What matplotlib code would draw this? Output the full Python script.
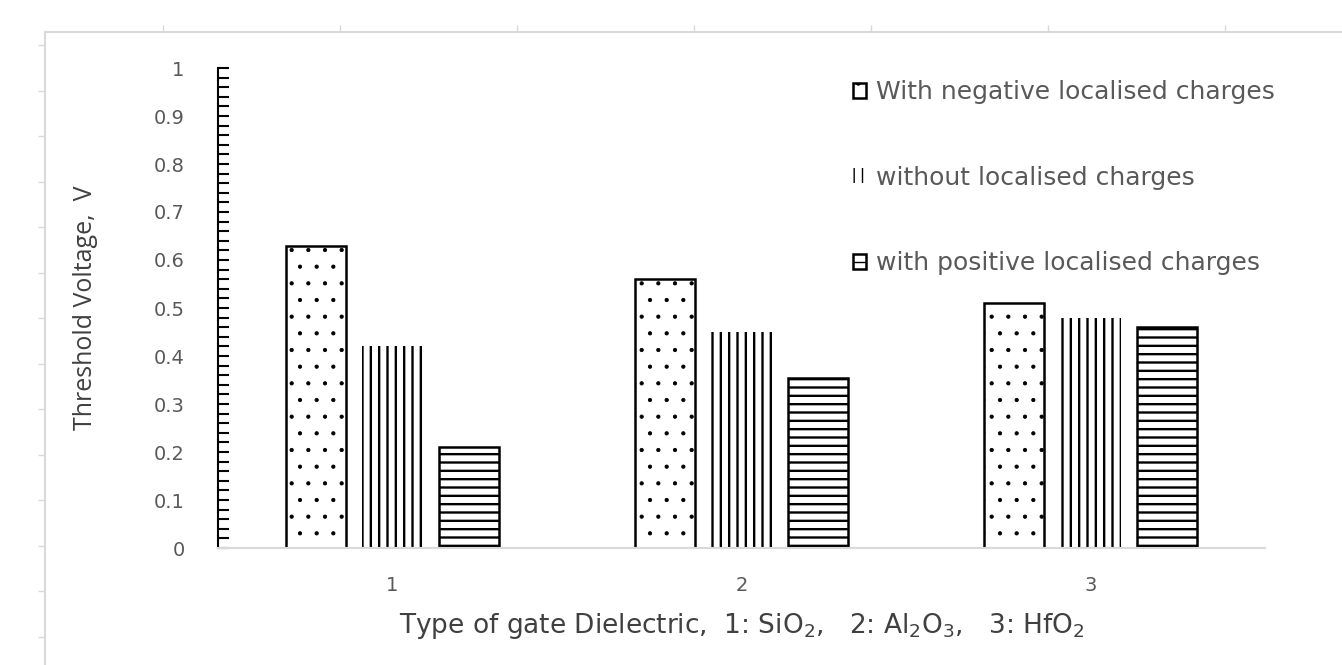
import numpy as np
import matplotlib
matplotlib.use("Agg")
import matplotlib.pyplot as plt
from matplotlib.ticker import MultipleLocator

plt.rcParams['font.family'] = ['DejaVu Sans']

# data
groups = [1, 2, 3]
negative = [0.63, 0.56, 0.51]
without = [0.42, 0.45, 0.48]
positive = [0.21, 0.355, 0.46]
labels = ["With negative localised charges",
          "without localised charges",
          "with positive localised charges"]

W, H = 1342, 665
fig = plt.figure(figsize=(W / 100, H / 100), dpi=100)

# faint outer frame of the screenshot
bg = fig.add_axes([45 / W, 0, 1 - 45 / W, (H - 32) / H], zorder=0)
bg.set_xlim(45, W)
bg.set_ylim(H, 32)
for s in ["right", "bottom"]:
    bg.spines[s].set_visible(False)
for s in ["top", "left"]:
    bg.spines[s].set_color("#d9d9d9")
    bg.spines[s].set_linewidth(1.5)
bg.xaxis.tick_top()
bg.set_xticks(np.arange(163, W, 177))
bg.set_yticks(np.arange(45, H, 45.5))
bg.tick_params(axis="both", length=5, color="#d9d9d9", width=1,
               labeltop=False, labelleft=False, labelbottom=False)
bg.patch.set_alpha(0)

ax = fig.add_axes([218 / W, (H - 548) / H, (1265 - 218) / W, 480 / H], zorder=1)
ax.patch.set_alpha(0)

x = np.array(groups)
bw = 0.172
off = 0.22
b1 = ax.bar(x - off, negative, bw, facecolor="white", edgecolor="black",
            linewidth=1.8, hatch=".", label=labels[0])
b2 = ax.bar(x, without, bw, facecolor="white", edgecolor="black",
            linewidth=0, hatch="||", label=labels[1])
b3 = ax.bar(x + off, positive, bw, facecolor="white", edgecolor="black",
            linewidth=1.8, hatch="--", label=labels[2])
for bars, hlw in [(b1, 0.6), (b2, 1.7), (b3, 1.7)]:
    for p in bars:
        if hasattr(p, "set_hatch_linewidth"):
            p.set_hatch_linewidth(hlw)

ax.set_xlim(0.5, 3.5)
ax.set_ylim(0, 1)
ax.yaxis.set_major_locator(MultipleLocator(0.1))
ax.yaxis.set_minor_locator(MultipleLocator(0.02))
ax.set_yticks(np.arange(0, 1.01, 0.1))
ax.set_yticklabels(["0"] + [f"{v:.1f}" for v in np.arange(0.1, 0.95, 0.1)] + ["1"])
ax.tick_params(axis="y", which="both", direction="in", length=8, width=1.5,
               color="black", labelcolor="#595959", labelsize=14, pad=24)
ax.set_xticks(groups)
ax.set_xticklabels([str(g) for g in groups])
ax.tick_params(axis="x", length=0, labelcolor="#595959", labelsize=14, pad=20)

for s in ["top", "right"]:
    ax.spines[s].set_visible(False)
ax.spines["left"].set_color("black")
ax.spines["left"].set_linewidth(1.5)
ax.spines["bottom"].set_color("#d9d9d9")
ax.spines["bottom"].set_linewidth(1.5)

ax.set_ylabel("Threshold Voltage,  V", color="#404040", fontsize=18,
              family="Open Sans", labelpad=40)
ax.set_xlabel("Type of gate Dielectric,  1: SiO$_2$,   2: Al$_2$O$_3$,   3: HfO$_2$",
              color="#404040", fontsize=19, labelpad=12)

fig.legend(handles=[b1, b2, b3], loc="upper left",
           bbox_to_anchor=(830 / W, 1 - 58 / H), frameon=False,
           fontsize=18, labelcolor="#595959", handlelength=0.55, handleheight=0.55,
           handletextpad=0.4, labelspacing=2.45)

fig.savefig("out.png", dpi=100)
